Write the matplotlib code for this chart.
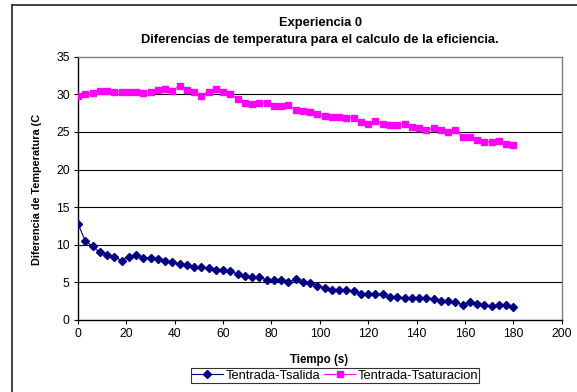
import matplotlib
matplotlib.use("Agg")
import matplotlib.pyplot as plt
from matplotlib.lines import Line2D

plt.rcParams["font.family"] = ["Liberation Sans", "DejaVu Sans"]

# Time axis (s), one reading every 3 s
tiempo = list(range(0, 181, 3))

tentrada_tsalida = [
    12.8, 10.5, 9.8, 9.0, 8.7, 8.4, 7.9, 8.4, 8.6, 8.3,
    8.3, 8.1, 7.9, 7.7, 7.5, 7.3, 7.0, 7.0, 6.9, 6.7,
    6.6, 6.5, 6.1, 5.9, 5.7, 5.7, 5.3, 5.3, 5.3, 5.1,
    5.4, 5.0, 4.9, 4.5, 4.3, 4.0, 4.0, 4.0, 3.8, 3.5,
    3.4, 3.4, 3.4, 3.0, 3.0, 2.9, 2.9, 2.9, 2.9, 2.8,
    2.5, 2.5, 2.4, 2.0, 2.4, 2.1, 2.0, 1.8, 2.0, 2.0,
    1.7,
]

tentrada_tsaturacion = [
    29.8, 30.1, 30.2, 30.4, 30.4, 30.35, 30.35, 30.35, 30.35, 30.2,
    30.3, 30.6, 30.75, 30.5, 31.1, 30.6, 30.35, 29.8, 30.35, 30.75,
    30.25, 30.0, 29.4, 28.9, 28.7, 28.9, 28.8, 28.5, 28.4, 28.6,
    27.9, 27.75, 27.6, 27.4, 27.1, 27.0, 27.0, 26.9, 26.9, 26.3,
    26.1, 26.5, 26.1, 25.9, 25.9, 26.0, 25.6, 25.5, 25.2, 25.5,
    25.2, 25.0, 25.2, 24.3, 24.3, 23.9, 23.7, 23.7, 23.8, 23.35,
    23.2,
]

x_ticks = list(range(0, 201, 20))
y_ticks = list(range(0, 36, 5))

fig = plt.figure(figsize=(5.77, 3.92), dpi=100)
ax = fig.add_axes([0.1352, 0.1837, 0.9735 - 0.1352, 0.8554 - 0.1837])

# Outer chart frame (right and bottom edges fall off the image)
fig.add_artist(Line2D([12 / 577, 1.0], [1 - 5 / 392, 1 - 5 / 392],
                      transform=fig.transFigure, color="#333333", lw=1.3))
fig.add_artist(Line2D([12 / 577, 12 / 577], [1 - 5 / 392, 0.0],
                      transform=fig.transFigure, color="#333333", lw=1.3))

for yv in y_ticks[1:-1]:
    ax.axhline(yv, color="black", lw=0.8, zorder=1)

ax.plot(tiempo, tentrada_tsalida, color="#000080", marker="D", markersize=3.6,
        lw=0.8, label="Tentrada-Tsalida", zorder=3)
ax.plot(tiempo, tentrada_tsaturacion, color="#FF00FF", marker="s", markersize=4,
        lw=0.8, label="Tentrada-Tsaturacion", zorder=3)

ax.set_xlim(0, 200)
ax.set_ylim(0, 35)
ax.set_xticks(x_ticks)
ax.set_yticks(y_ticks)
ax.tick_params(direction="out", length=3, width=0.8, labelsize=8.7, pad=3)

ax.spines["top"].set_color("#808080")
ax.spines["right"].set_color("#808080")
ax.spines["left"].set_color("black")
ax.spines["bottom"].set_color("black")
for sp in ax.spines.values():
    sp.set_linewidth(1.0)

fig.text(319 / 577, 1 - 360 / 392, "Tiempo (s)", fontsize=8.3, fontweight="bold",
         ha="center", va="center")
fig.text(37 / 577, 1 - 189 / 392, "Diferencia de Temperatura (C", rotation=90,
         fontsize=7.8, fontweight="bold", ha="center", va="center")

fig.text(0.5547, 1 - 23 / 392, "Experiencia 0", fontsize=9.3, fontweight="bold",
         ha="center", va="center")
fig.text(0.5547, 1 - 40 / 392, "Diferencias de temperatura para el calculo de la eficiencia.",
         fontsize=9.3, fontweight="bold", ha="center", va="center")

leg = fig.legend(loc="center", bbox_to_anchor=(335 / 577, 1 - 375.5 / 392), ncol=2,
                 fontsize=9.3, frameon=True, fancybox=False, borderpad=0.1,
                 handlelength=2.4, handletextpad=0.2, columnspacing=0.3,
                 borderaxespad=0)
leg.get_frame().set_edgecolor("black")
leg.get_frame().set_linewidth(0.8)

fig.savefig("out.png", dpi=100)
